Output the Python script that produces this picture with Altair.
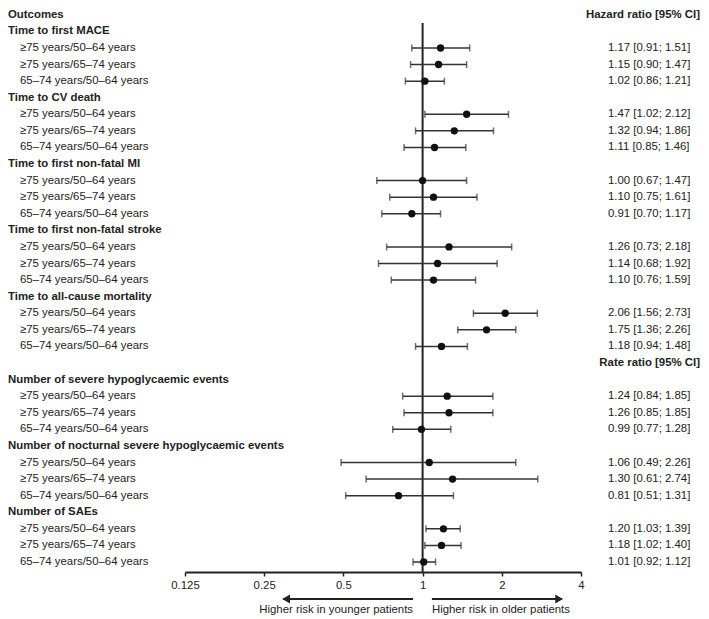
import altair as alt
import pandas as pd

FONT = "Liberation Sans, Arial, sans-serif"
FS = 11.4
INK = "#222222"

groups = [
    "Time to first MACE",
    "Time to CV death",
    "Time to first non-fatal MI",
    "Time to first non-fatal stroke",
    "Time to all-cause mortality",
    "Number of severe hypoglycaemic events",
    "Number of nocturnal severe hypoglycaemic events",
    "Number of SAEs",
]
comparisons = ["≥75 years/50–64 years", "≥75 years/65–74 years", "65–74 years/50–64 years"]

est = [1.17, 1.15, 1.02, 1.47, 1.32, 1.11, 1.00, 1.10, 0.91, 1.26, 1.14, 1.10,
       2.06, 1.75, 1.18, 1.24, 1.26, 0.99, 1.06, 1.30, 0.81, 1.20, 1.18, 1.01]
lo = [0.91, 0.90, 0.86, 1.02, 0.94, 0.85, 0.67, 0.75, 0.70, 0.73, 0.68, 0.76,
      1.56, 1.36, 0.94, 0.84, 0.85, 0.77, 0.49, 0.61, 0.51, 1.03, 1.02, 0.92]
hi = [1.51, 1.47, 1.21, 2.12, 1.86, 1.46, 1.47, 1.61, 1.17, 2.18, 1.92, 1.59,
      2.73, 2.26, 1.48, 1.85, 1.85, 1.28, 2.26, 2.74, 1.31, 1.39, 1.40, 1.12]

tick_values = [0.125, 0.25, 0.5, 1, 2, 4]
left_note = "Higher risk in younger patients"
right_note = "Higher risk in older patients"
hr_header = "Hazard ratio [95% CI]"
rr_header = "Rate ratio [95% CI]"
rr_starts_at_group = 5

# ---- build row tables ----
head_rows, sub_rows, est_rows, right_heads = [], [], [], []
r = 0
head_rows.append({"row": r, "label": "Outcomes"})
right_heads.append({"row": r, "label": hr_header})
r += 1
k = 0
for gi, g in enumerate(groups):
    if gi == rr_starts_at_group:
        right_heads.append({"row": r, "label": rr_header})
        r += 1
    head_rows.append({"row": r, "label": g})
    r += 1
    for c in comparisons:
        sub_rows.append({"row": r, "label": c})
        est_rows.append({"row": r, "est": est[k], "lo": lo[k], "hi": hi[k],
                         "txt": f"{est[k]:.2f} [{lo[k]:.2f}; {hi[k]:.2f}]"})
        r += 1
        k += 1
last_row = r - 1

heads = pd.DataFrame(head_rows)
subs = pd.DataFrame(sub_rows)
ests = pd.DataFrame(est_rows)
rheads = pd.DataFrame(right_heads)

W, H = 693, 563
Y_TOP, Y_BOT = 5.8, 553.0
xs = alt.Scale(type="log", base=2, domain=[0.125, 4], range=[177, 573], nice=False)
ys = alt.Scale(domain=[0, last_row], range=[Y_TOP, Y_BOT], nice=False, zero=False)
x_axis = alt.Axis(values=tick_values, format="~g", title=None, grid=False,
                  domainColor=INK, domainWidth=2, tickColor=INK, tickWidth=1.5,
                  tickSize=4, labelFont=FONT, labelFontSize=FS, labelColor=INK,
                  labelPadding=3, labelFlush=False, labelOverlap=False)


def X(field):
    return alt.X(field, type="quantitative", scale=xs, axis=x_axis)


def Y(field):
    return alt.Y(field, type="quantitative", scale=ys, axis=None)


step = (Y_BOT - Y_TOP) / last_row
ref_df = pd.DataFrame({"x": [1], "y0": [0.5], "y1": [last_row + (H - Y_BOT) / step]})
ref = alt.Chart(ref_df).mark_rule(color=INK, strokeWidth=2).encode(
    x=X("x"), y=Y("y0"), y2="y1")

ci = alt.Chart(ests).mark_rule(color="#333333", strokeWidth=1.5).encode(
    x=X("lo"), x2="hi", y=Y("row"))
cap_lo = alt.Chart(ests).mark_tick(color="#333333", thickness=1.5, size=7, orient="vertical").encode(
    x=X("lo"), y=Y("row"))
cap_hi = alt.Chart(ests).mark_tick(color="#333333", thickness=1.5, size=7, orient="vertical").encode(
    x=X("hi"), y=Y("row"))
pts = alt.Chart(ests).mark_circle(color="#111111", opacity=1, size=54).encode(
    x=X("est"), y=Y("row"))

head_txt = alt.Chart(heads).mark_text(align="left", baseline="middle", font=FONT, fontSize=FS,
                                      fontWeight="bold", color=INK).encode(
    x=alt.value(0), y=Y("row"), text="label:N")
sub_txt = alt.Chart(subs).mark_text(align="left", baseline="middle", font=FONT, fontSize=FS,
                                    color=INK).encode(
    x=alt.value(12), y=Y("row"), text="label:N")
val_txt = alt.Chart(ests).mark_text(align="left", baseline="middle", font=FONT, fontSize=FS,
                                    color=INK).encode(
    x=alt.value(600), y=Y("row"), text="txt:N")
rhead_txt = alt.Chart(rheads).mark_text(align="right", baseline="middle", font=FONT, fontSize=FS,
                                        fontWeight="bold", color=INK).encode(
    x=alt.value(692), y=Y("row"), text="label:N")

# arrows below the axis
arrows = pd.DataFrame({"a": [0.92, 1.085], "b": [0.295, 3.39]})
ARROW_Y = 590
NOTE_Y = 601
arrow_lines = alt.Chart(arrows).mark_rule(color=INK, strokeWidth=2).encode(
    x=X("a"), x2="b", y=alt.value(ARROW_Y))
head_l = alt.Chart(arrows.iloc[[0]]).mark_point(shape="triangle-left", filled=True, size=80,
                                               color=INK, opacity=1, xOffset=3).encode(
    x=X("b"), y=alt.value(ARROW_Y))
head_r = alt.Chart(arrows.iloc[[1]]).mark_point(shape="triangle-right", filled=True, size=80,
                                               color=INK, opacity=1, xOffset=-3).encode(
    x=X("b"), y=alt.value(ARROW_Y))
notes = pd.DataFrame({"x": [0.92, 1.085], "t": [left_note, right_note]})
note_l = alt.Chart(notes.iloc[[0]]).mark_text(align="right", baseline="middle", font=FONT,
                                              fontSize=FS, color=INK).encode(
    x=X("x"), y=alt.value(NOTE_Y), text="t:N")
note_r = alt.Chart(notes.iloc[[1]]).mark_text(align="left", baseline="middle", font=FONT,
                                              fontSize=FS, color=INK).encode(
    x=X("x"), y=alt.value(NOTE_Y), text="t:N")

chart = alt.layer(
    ref, ci, cap_lo, cap_hi, pts, head_txt, sub_txt, val_txt, rhead_txt,
    arrow_lines, head_l, head_r, note_l, note_r
).properties(width=W, height=H, padding=0).configure_view(strokeWidth=0)

chart.save("out.html", embed_options={"renderer": "svg", "actions": False})
